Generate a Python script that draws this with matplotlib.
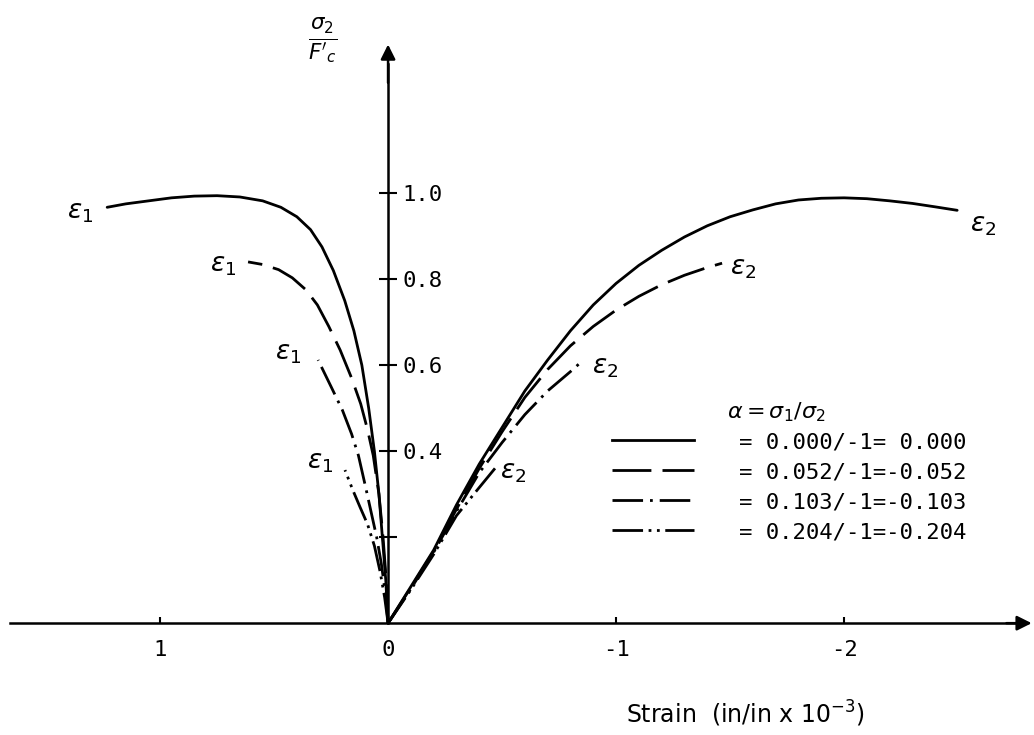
import numpy as np
import matplotlib
matplotlib.use('Agg')
from matplotlib import pyplot as plt
from matplotlib.lines import Line2D

plt.rcParams['axes.unicode_minus'] = False
plt.rcParams['mathtext.fontset'] = 'dejavusans'

# curve data: strain (x 10^-3, lateral +, axial -) vs sigma2/f'c
# alpha = 0.000
e1_a0 = [0, 0.01, 0.025, 0.04, 0.06, 0.085, 0.115, 0.15, 0.19, 0.24, 0.29, 0.34, 0.40, 0.47, 0.55,
         0.65, 0.75, 0.85, 0.95, 1.05, 1.15, 1.232]
s1_a0 = [0, 0.10, 0.20, 0.30, 0.40, 0.50, 0.60, 0.68, 0.75, 0.82, 0.875, 0.915, 0.945, 0.967, 0.982,
         0.991, 0.994, 0.993, 0.989, 0.982, 0.975, 0.967]
e2_a0 = [0, -0.1, -0.2, -0.3, -0.4, -0.5, -0.6, -0.7, -0.8, -0.9, -1.0, -1.1, -1.2, -1.3, -1.4,
         -1.5, -1.6, -1.7, -1.8, -1.9, -2.0, -2.1, -2.2, -2.3, -2.4, -2.496]
s2_a0 = [0, 0.085, 0.17, 0.275, 0.37, 0.455, 0.54, 0.612, 0.68, 0.74, 0.79, 0.832, 0.867, 0.898, 0.924,
         0.945, 0.961, 0.975, 0.984, 0.988, 0.989, 0.987, 0.982, 0.976, 0.968, 0.960]
# alpha = -0.052
e1_a1 = [0, 0.008, 0.022, 0.04, 0.065, 0.09, 0.12, 0.16, 0.21, 0.26, 0.31, 0.36, 0.42, 0.48, 0.55, 0.614]
s1_a1 = [0, 0.10, 0.20, 0.30, 0.39, 0.45, 0.51, 0.57, 0.635, 0.69, 0.74, 0.775, 0.803, 0.822, 0.834, 0.840]
e2_a1 = [0, -0.1, -0.2, -0.3, -0.4, -0.5, -0.6, -0.7, -0.8, -0.9, -1.0, -1.1, -1.2, -1.3, -1.4, -1.465]
s2_a1 = [0, 0.083, 0.167, 0.265, 0.36, 0.445, 0.525, 0.59, 0.645, 0.69, 0.728, 0.76, 0.787, 0.809, 0.827, 0.837]
# alpha = -0.103
e1_a2 = [0, 0.012, 0.03, 0.05, 0.075, 0.10, 0.13, 0.16, 0.20, 0.25, 0.307]
s1_a2 = [0, 0.07, 0.14, 0.20, 0.26, 0.32, 0.39, 0.44, 0.495, 0.55, 0.612]
e2_a2 = [0, -0.1, -0.2, -0.3, -0.4, -0.5, -0.6, -0.7, -0.8, -0.842]
s2_a2 = [0, 0.08, 0.165, 0.26, 0.35, 0.42, 0.485, 0.54, 0.585, 0.605]
# alpha = -0.204
e1_a3 = [0, 0.015, 0.035, 0.06, 0.09, 0.123, 0.155, 0.189]
s1_a3 = [0, 0.06, 0.12, 0.18, 0.23, 0.27, 0.31, 0.356]
e2_a3 = [0, -0.1, -0.2, -0.3, -0.39, -0.469]
s2_a3 = [0, 0.078, 0.16, 0.25, 0.309, 0.36]

legend_labels = ['= 0.000/-1= 0.000', '= 0.052/-1=-0.052', '= 0.103/-1=-0.103', '= 0.204/-1=-0.204']
ytick_vals = [0.2, 0.4, 0.6, 0.8, 1.0]
ytick_labels = ['', '0.4', '0.6', '0.8', '1.0']
xtick_vals = [1, 0, -1, -2]
xtick_labels = ['1', '0', '-1', '-2']

styles = ['-', (0, (14, 4)), (0, (11, 2.5, 1, 2.5)), (0, (11, 2, 1, 2, 1, 2))]
mono = 'DejaVu Sans Mono'
lw = 2.0

fig = plt.figure(figsize=(10.34, 7.35), dpi=100)
ax = fig.add_axes([0, 0, 1, 1])
ax.set_xlim(1.702, -2.833)
ax.set_ylim(-0.260, 1.449)

curves = [(e1_a0, s1_a0, e2_a0, s2_a0), (e1_a1, s1_a1, e2_a1, s2_a1),
          (e1_a2, s1_a2, e2_a2, s2_a2), (e1_a3, s1_a3, e2_a3, s2_a3)]
for (e1, s1, e2, s2), ls in zip(curves, styles):
    ax.plot(e1, s1, color='k', lw=lw, ls=ls, solid_capstyle='round', solid_joinstyle='round')
    ax.plot(e2, s2, color='k', lw=lw, ls=ls, solid_capstyle='round', solid_joinstyle='round')

# end labels
eps_kw = dict(fontsize=19, ha='center', va='center')
ax.text(1.351, 0.956, r'$\varepsilon_1$', **eps_kw)
ax.text(0.724, 0.833, r'$\varepsilon_1$', **eps_kw)
ax.text(0.439, 0.628, r'$\varepsilon_1$', **eps_kw)
ax.text(0.298, 0.374, r'$\varepsilon_1$', **eps_kw)
ax.text(-2.61, 0.926, r'$\varepsilon_2$', **eps_kw)
ax.text(-1.557, 0.826, r'$\varepsilon_2$', **eps_kw)
ax.text(-0.952, 0.595, r'$\varepsilon_2$', **eps_kw)
ax.text(-0.548, 0.351, r'$\varepsilon_2$', **eps_kw)

# axes through the origin
for s in ['left', 'top']:
    ax.spines[s].set_visible(False)
ax.spines['bottom'].set_position(('data', 0))
ax.spines['bottom'].set_bounds(1.66, -2.75)
ax.spines['right'].set_position(('data', 0))
ax.spines['right'].set_bounds(0, 1.30)
for s in ['bottom', 'right']:
    ax.spines[s].set_linewidth(1.8)
ax.annotate('', xy=(-2.835, 0), xytext=(-2.70, 0),
            arrowprops=dict(arrowstyle='-|>', color='k', lw=1.8, mutation_scale=22))
ax.annotate('', xy=(0, 1.352), xytext=(0, 1.25),
            arrowprops=dict(arrowstyle='-|>', color='k', lw=1.8, mutation_scale=22))

ax.yaxis.tick_right()
ax.set_yticks(ytick_vals)
ax.set_yticklabels(ytick_labels)
ax.tick_params(axis='y', direction='inout', length=13, width=1.5, pad=4, labelsize=16)
ax.set_xticks(xtick_vals)
ax.set_xticklabels(xtick_labels)
ax.tick_params(axis='x', direction='in', length=4, width=1.5, pad=12, labelsize=16)
for t in ax.get_xticklabels() + ax.get_yticklabels():
    t.set_family(mono)

ax.text(-1.565, -0.21, r'Strain  (in/in x 10$^{-3}$)', fontsize=17, ha='center', va='center')
fig.text(323 / 1034, 1 - 40 / 735, r"$\frac{\sigma_2}{F'_c}$", fontsize=22, ha='center', va='center')

# legend
handles = [Line2D([], [], color='k', lw=lw, ls=ls) for ls in styles]
ax.text(727 / 1034, 1 - 412 / 735, r'$\alpha = \sigma_1/\sigma_2$', transform=fig.transFigure,
        fontsize=16, ha='left', va='center')
fig.legend(handles, legend_labels, loc='upper left', bbox_to_anchor=(612 / 1034, 1 - 432 / 735),
           frameon=False, borderpad=0, borderaxespad=0, handlelength=3.7, handletextpad=2.0,
           labelspacing=0.45, prop={'family': mono, 'size': 16})

plt.savefig('out.png', dpi=100)
